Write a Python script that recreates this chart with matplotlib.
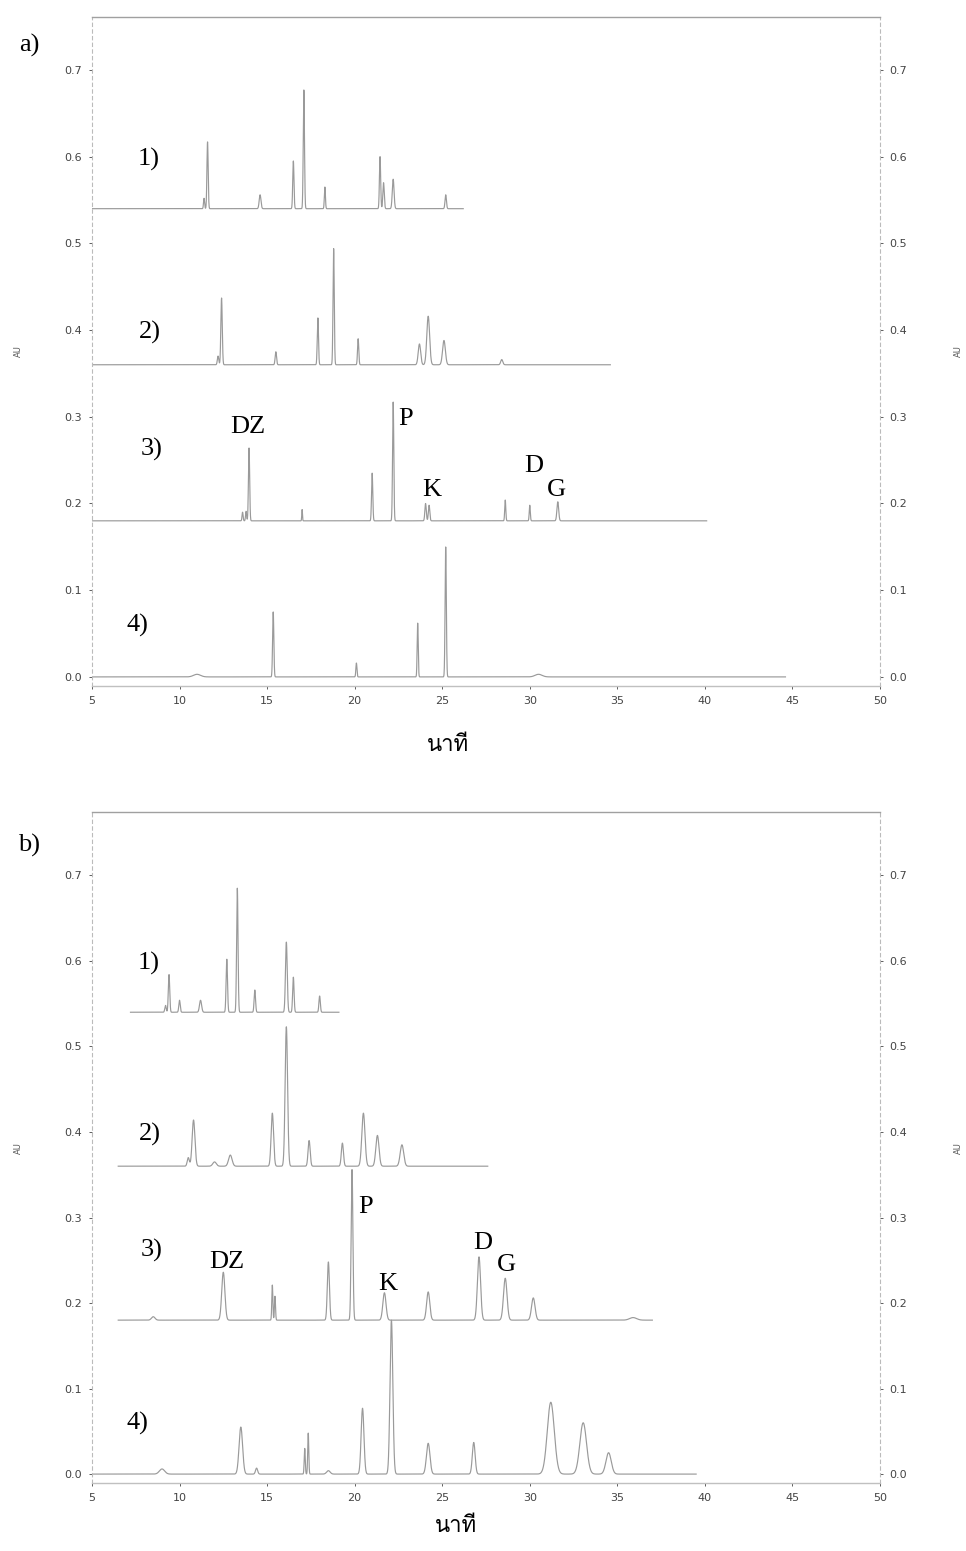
import numpy as np
import matplotlib
matplotlib.use("Agg")
import matplotlib.pyplot as plt
from matplotlib import font_manager
from matplotlib.ft2font import FT2Font

# retention time axis (min) and absorbance (AU)
x_ticks = [5, 10, 15, 20, 25, 30, 35, 40, 45, 50]
y_ticks = [0.0, 0.1, 0.2, 0.3, 0.4, 0.5, 0.6, 0.7]
trace_names = ["1)", "2)", "3)", "4)"]
baselines = [0.54, 0.36, 0.18, 0.0]

# ---- panel a ----
a_runs = [(5.0, 26.2), (5.0, 34.6), (5.0, 40.1), (5.0, 44.6)]
a1_t = [11.4, 11.6, 14.6, 16.5, 17.1, 18.3, 21.45, 21.65, 22.2, 25.2]
a1_top = [0.552, 0.617, 0.556, 0.595, 0.677, 0.565, 0.600, 0.570, 0.574, 0.556]
a1_w = [0.03, 0.035, 0.05, 0.035, 0.035, 0.03, 0.035, 0.04, 0.05, 0.04]
a2_t = [12.2, 12.4, 15.5, 17.9, 18.8, 20.2, 23.7, 24.2, 25.1, 28.4]
a2_top = [0.370, 0.437, 0.375, 0.414, 0.494, 0.390, 0.384, 0.416, 0.388, 0.366]
a2_w = [0.04, 0.04, 0.04, 0.035, 0.035, 0.035, 0.07, 0.08, 0.08, 0.06]
a3_t = [13.6, 13.8, 13.97, 17.0, 21.0, 22.2, 24.05, 24.25, 28.6, 30.0, 31.6]
a3_top = [0.190, 0.191, 0.264, 0.193, 0.235, 0.317, 0.200, 0.198, 0.204, 0.198, 0.202]
a3_w = [0.03, 0.03, 0.035, 0.02, 0.035, 0.035, 0.04, 0.04, 0.03, 0.03, 0.05]
a4_t = [11.0, 15.35, 20.1, 23.6, 25.2, 30.5]
a4_top = [0.003, 0.075, 0.016, 0.062, 0.150, 0.003]
a4_w = [0.2, 0.035, 0.03, 0.03, 0.035, 0.2]
a_peaks = [(a1_t, a1_top, a1_w), (a2_t, a2_top, a2_w),
           (a3_t, a3_top, a3_w), (a4_t, a4_top, a4_w)]
a_marks = {"DZ": (13.9, 0.288), "P": (22.9, 0.298), "K": (24.4, 0.215),
           "D": (30.2, 0.243), "G": (31.5, 0.216)}

# ---- panel b ----
b_runs = [(7.2, 19.1), (6.5, 27.6), (6.5, 37.0), (5.0, 39.5)]
b1_t = [9.2, 9.4, 10.0, 11.2, 12.7, 13.3, 14.3, 16.1, 16.5, 18.0]
b1_top = [0.548, 0.584, 0.554, 0.554, 0.602, 0.685, 0.566, 0.622, 0.581, 0.559]
b1_w = [0.04, 0.04, 0.04, 0.06, 0.04, 0.04, 0.04, 0.05, 0.04, 0.04]
b2_t = [10.5, 10.8, 12.0, 12.9, 15.3, 16.1, 17.4, 19.3, 20.5, 21.3, 22.7]
b2_top = [0.370, 0.414, 0.365, 0.373, 0.422, 0.523, 0.390, 0.387, 0.422, 0.396, 0.385]
b2_w = [0.06, 0.08, 0.1, 0.1, 0.07, 0.07, 0.06, 0.06, 0.09, 0.09, 0.1]
b3_t = [8.5, 12.5, 15.3, 15.45, 18.5, 19.85, 21.7, 24.2, 27.1, 28.6, 30.2, 35.9]
b3_top = [0.184, 0.236, 0.221, 0.208, 0.248, 0.356, 0.212, 0.213, 0.254, 0.229, 0.206, 0.183]
b3_w = [0.1, 0.09, 0.03, 0.03, 0.06, 0.05, 0.09, 0.09, 0.09, 0.1, 0.1, 0.2]
b4_t = [9.0, 13.5, 14.4, 17.15, 17.35, 18.5, 20.45, 22.1, 24.2, 26.8, 31.2, 33.05, 34.5]
b4_top = [0.006, 0.055, 0.007, 0.030, 0.048, 0.004, 0.077, 0.180, 0.036, 0.037, 0.084, 0.060, 0.025]
b4_w = [0.15, 0.1, 0.06, 0.03, 0.03, 0.1, 0.08, 0.08, 0.1, 0.08, 0.2, 0.19, 0.15]
b_peaks = [(b1_t, b1_top, b1_w), (b2_t, b2_top, b2_w),
           (b3_t, b3_top, b3_w), (b4_t, b4_top, b4_w)]
b_marks = {"DZ": (12.7, 0.248), "P": (20.6, 0.312), "K": (21.9, 0.222),
           "D": (27.3, 0.270), "G": (28.65, 0.244)}


def thai_font():
    # pick an installed family that has Thai glyphs
    for f in font_manager.fontManager.ttflist:
        try:
            if 0x0E19 in FT2Font(f.fname).get_charmap():
                return f.name
        except Exception:
            continue
    return "DejaVu Sans"


def trace(run, peaks, base):
    t = np.linspace(run[0], run[1], 8000)
    y = np.full_like(t, base)
    for c, top, w in zip(*peaks):
        y += (top - base) * np.exp(-0.5 * ((t - c) / w) ** 2)
    return t, y


def draw_panel(rect, ylim, runs, peaks, marks, letter, letter_y, fig):
    ax = fig.add_axes(rect)
    for run, pk, base in zip(runs, peaks, baselines):
        t, y = trace(run, pk, base)
        ax.plot(t, y, color="#9a9a9a", lw=0.85)
    ax.set_xlim(5, 50)
    ax.set_ylim(*ylim)
    ax.set_xticks(x_ticks)
    ax.set_yticks(y_ticks)
    ax.set_yticklabels([f"{v:.1f}" for v in y_ticks])
    ax.tick_params(labelsize=8, colors="#444444", length=2, width=0.6,
                   right=True, labelright=True, pad=5)
    ax.spines["top"].set_color("#a0a0a0")
    ax.spines["bottom"].set_color("#c0c0c0")
    for s in ("left", "right"):
        ax.spines[s].set_color("#bbbbbb")
        ax.spines[s].set_linestyle((0, (3, 3)))
        ax.spines[s].set_linewidth(0.8)
    for s in ("top", "bottom"):
        ax.spines[s].set_linewidth(1.0)

    label_x = [7.6, 7.7, 7.8, 7.0]
    label_y = [0.597, 0.397, 0.262, 0.059]
    for name, lx, ly in zip(trace_names, label_x, label_y):
        ax.text(lx, ly, name, fontsize=19, family="Liberation Serif",
                ha="left", va="center")
    for name, (mx, my) in marks.items():
        ax.text(mx, my, name, fontsize=19, family="Liberation Serif",
                ha="center", va="center")

    x0, y0, w, h = rect
    fig.text(0.03, letter_y, letter, fontsize=19,
             family="Liberation Serif", ha="center", va="center")
    fig.text(0.019, y0 + h * 0.5, "AU", fontsize=6, rotation=90,
             ha="center", va="center", color="#555555")
    fig.text(0.992, y0 + h * 0.5, "AU", fontsize=6, rotation=90,
             ha="center", va="center", color="#555555")
    return ax


fig = plt.figure(figsize=(9.66, 15.51), dpi=100)

draw_panel([0.0952, 0.5577, 0.8158, 0.4313], (-0.0105, 0.761),
           a_runs, a_peaks, a_marks, "a)", 1 - 45 / 1551, fig)
draw_panel([0.0952, 0.0438, 0.8158, 0.4326], (-0.0105, 0.774),
           b_runs, b_peaks, b_marks, "b)", 1 - 845 / 1551, fig)

thai = thai_font()
fig.text(448 / 966, 1 - 746 / 1551, "นาที", fontsize=16,
         family=[thai, "DejaVu Sans"], ha="center", va="center")
fig.text(456 / 966, 1 - 1527 / 1551, "นาที", fontsize=16,
         family=[thai, "DejaVu Sans"], ha="center", va="center")

fig.savefig("out.png", dpi=100)
